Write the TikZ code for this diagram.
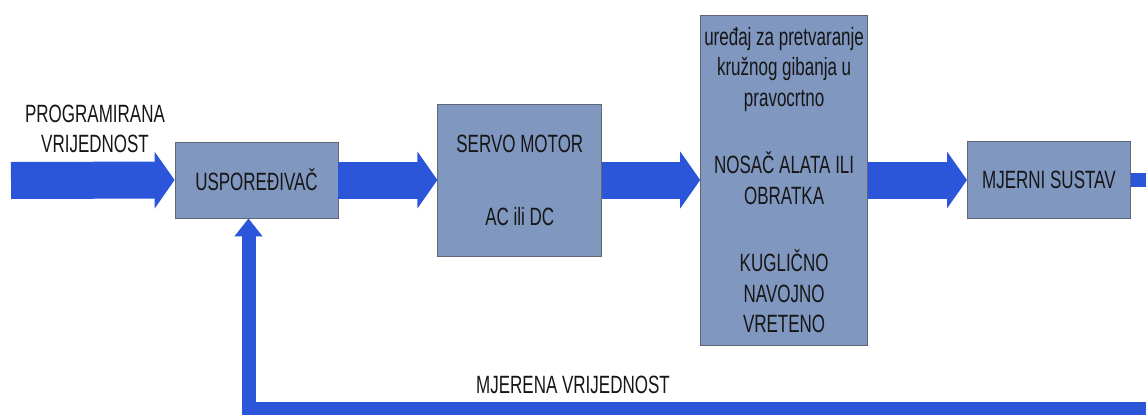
\documentclass[tikz,border=0pt]{standalone}
\usepackage{fontspec}
\setmainfont{Liberation Sans}[FakeStretch=0.68]
\definecolor{flowblue}{RGB}{44,86,218}
\definecolor{boxfill}{RGB}{128,151,192}
\definecolor{boxedge}{RGB}{96,104,120}
\definecolor{inktext}{RGB}{22,22,22}
\usetikzlibrary{arrows.meta,positioning}

\begin{document}
\begin{tikzpicture}[x=1pt, y=-1pt,
      font=\fontsize{25}{30.5}\selectfont, text=inktext,
      flow/.style={draw=flowblue, line width=37pt,
                   -{Triangle[width=56pt,length=20pt]}},
      fb/.style={draw=flowblue, line width=14pt, line join=miter,
                 -{Triangle[width=27pt,length=18pt]}},
      blk/.style={draw=boxedge, fill=boxfill, line width=0.8pt,
                  align=center, inner sep=0pt}
    ]
    \clip (0,0) rectangle (1146,415);
    % blocks of the loop
    \node[blk, minimum width=163pt, minimum height=76pt] (comp) at (256.5,180) {USPOREĐIVAČ};
    \node[blk, minimum width=164pt, minimum height=152pt, right=99pt of comp] (servo) {%
      SERVO MOTOR\\[42.5pt]AC ili DC};
    \node[blk, minimum width=167pt, minimum height=330pt, right=98pt of servo] (conv) {%
      uređaj za pretvaranje\\kružnog gibanja u\\pravocrtno\\[37pt]
      NOSAČ ALATA ILI\\OBRATKA\\[37pt]
      KUGLIČNO\\NAVOJNO\\VRETENO};
    \node[blk, minimum width=163pt, minimum height=77pt, right=99pt of conv] (meas) {MJERNI SUSTAV};
    % input and feedback
    \coordinate (src) at (11,180.5);
    \coordinate (rturn) at (1153,409);
    \coordinate (lturn) at (248.5,409);
    \node[align=center] (setval) at (95,129) {PROGRAMIRANA\\VRIJEDNOST};
    \node (measval) at (573,385) {MJERENA VRIJEDNOST};
    \draw[flow] (src) -- (comp.west);
    \draw[flow] (comp) -- (servo);
    \draw[flow] (servo) -- (conv);
    \draw[flow] (conv.east |- meas.west) -- (meas.west);
    \draw[fb] (meas.east) -| (rturn) -- (lturn) -- ([xshift=-8pt]comp.south);
  \end{tikzpicture}
\end{document}
